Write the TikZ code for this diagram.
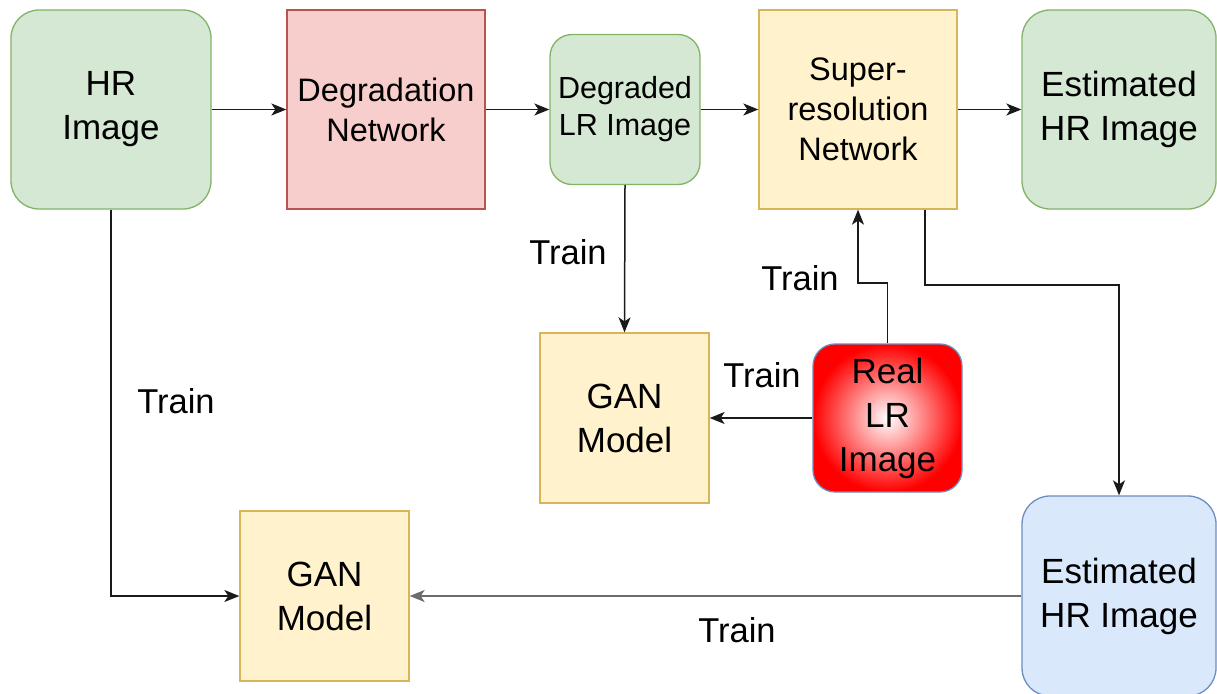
\documentclass[tikz,border=0pt]{standalone}
\usepackage{fontspec}
\setmainfont{Liberation Sans}
\usetikzlibrary{arrows.meta}
\definecolor{gfill}{HTML}{D5E8D4}\definecolor{gline}{HTML}{82B366}
\definecolor{rfill}{HTML}{F8CECC}\definecolor{rline}{HTML}{B85450}
\definecolor{yfill}{HTML}{FFF2CC}\definecolor{yline}{HTML}{D6B656}
\definecolor{bfill}{HTML}{DAE8FC}\definecolor{bline}{HTML}{6C8EBF}
\definecolor{conn}{HTML}{1A1A1A}
\tikzset{
  box/.style={draw, line width=1.3pt, align=center, inner sep=0pt, text=black},
  greenbox/.style={box, fill=gfill, draw=gline, rounded corners=28pt},
  redbox/.style={box, fill=rfill, draw=rline},
  yellowbox/.style={box, fill=yfill, draw=yline},
  bluebox/.style={box, fill=bfill, draw=bline, rounded corners=28pt},
  big/.style={font=\fontsize{35}{44}\selectfont},
  mid/.style={font=\fontsize{32.5}{40}\selectfont},
  small/.style={font=\fontsize{30.5}{37}\selectfont},
  lbl/.style={font=\fontsize{34.5}{40}\selectfont, inner sep=0pt},
  arr/.style={draw=conn, line width=1.5pt, -{Stealth[length=15pt,width=12pt,inset=4pt]}},
}
\begin{document}
\begin{tikzpicture}[x=1pt,y=-1pt]
\useasboundingbox (0,0) rectangle (1217,693);
\node[greenbox, big, minimum width=200pt, minimum height=199pt] (hr) at (111,109.5) {HR\\Image};
\node[redbox, mid, minimum width=198pt, minimum height=199pt] (deg) at (386,109.5) {Degradation\\Network};
\node[greenbox, small, rounded corners=22pt, minimum width=150pt, minimum height=150pt] (dlr) at (625,109.5) {Degraded\\LR Image};
\node[yellowbox, mid, minimum width=198pt, minimum height=199pt] (sr) at (858,109.5) {Super-\\resolution\\Network};
\node[greenbox, big, minimum width=194pt, minimum height=199pt] (est1) at (1119,109.5) {Estimated\\HR Image};
\node[yellowbox, big, minimum width=169pt, minimum height=170pt] (gan1) at (624.5,418) {GAN\\Model};
\node[box, draw=bline, rounded corners=22pt, shading=radial, inner color=white, outer color=red, big, minimum width=149pt, minimum height=148pt] (real) at (887.5,418) {Real\\LR\\Image};
\node[yellowbox, big, minimum width=169pt, minimum height=170pt] (gan2) at (324.5,596) {GAN\\Model};
\node[bluebox, big, minimum width=194pt, minimum height=200pt] (est2) at (1119,596) {Estimated\\HR Image};

\coordinate (k1) at (858,283);
\coordinate (k2) at (925,285);

\draw[arr] (hr) -- (deg);
\draw[arr] (deg) -- (dlr);
\draw[arr] (dlr) -- (sr);
\draw[arr] (sr) -- (est1);
\draw[arr] (dlr.south) -- (gan1.north);
\draw[arr] (real.north) |- (k1) -- (sr.south);
\draw[arr] (real.west) -- (gan1.east);
\draw[arr] (k2 |- sr.south) -- (k2) -| (est2.north);
\draw[arr] (hr.south) |- (gan2.west);
\draw[arr, draw=gray!85!black, line width=2pt] (est2.west) -- (gan2.east);

\node[lbl] (t1) at (568,252) {Train};
\node[lbl] (t2) at (800,278) {Train};
\node[lbl] (t3) at (762,375) {Train};
\node[lbl] (t4) at (176,401) {Train};
\node[lbl] (t5) at (737,630) {Train};
\end{tikzpicture}
\end{document}
